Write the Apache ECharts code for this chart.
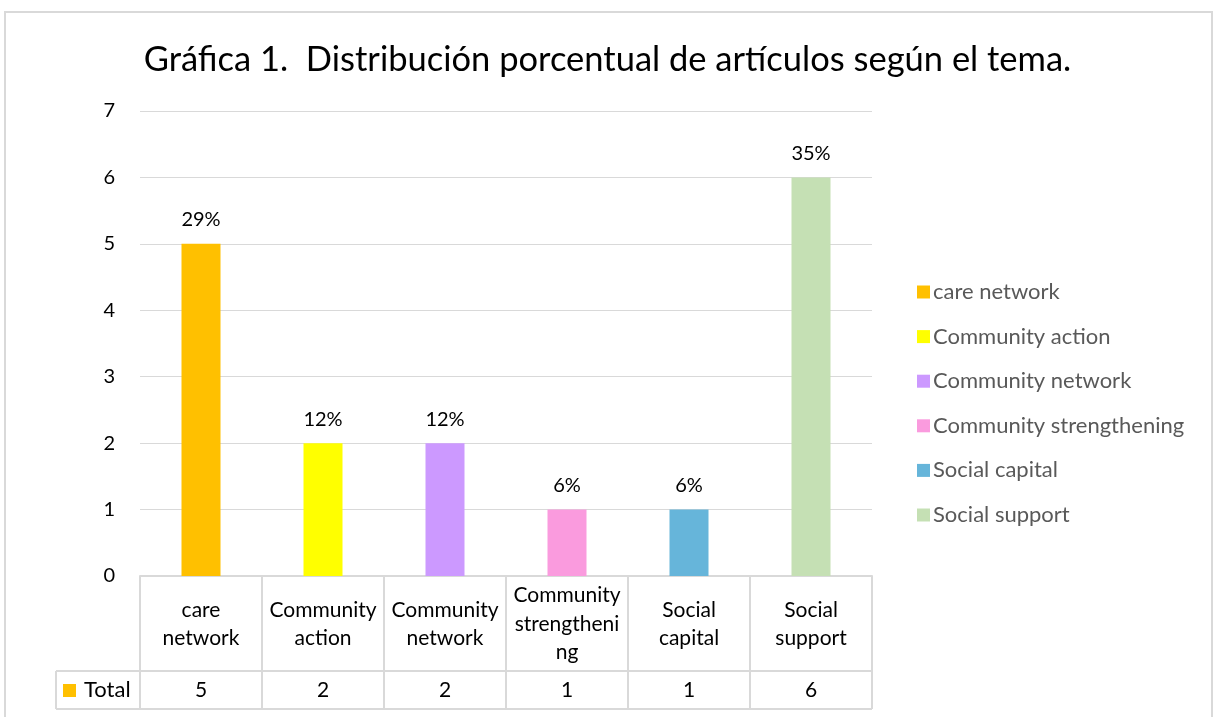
<!DOCTYPE html>
<html><head><meta charset="utf-8">
<script src="https://cdn.jsdelivr.net/npm/echarts@6/dist/echarts.min.js"></script>
<style>html,body{margin:0;padding:0;background:#fff}#c{width:1215px;height:717px}</style>
</head><body><div id="c"></div>
<script>
const title = 'Gráfica 1.  Distribución porcentual de artículos según el tema.';
const categories = ['care network','Community action','Community network','Community strengthening','Social capital','Social support'];
const headerLabels = ['care\nnetwork','Community\naction','Community\nnetwork','Community\nstrengtheni\nng','Social\ncapital','Social\nsupport'];
const values = [5,2,2,1,1,6];
const colors = ['#FFC000','#FFFF00','#CC99FF','#FA9BDE','#66B5DA','#C5E0B4'];
const yTicks = [0,1,2,3,4,5,6,7];

const FONT = 'Lato, "Open Sans", sans-serif';
const G = {left:140, right:343, top:111, bottom:141};
const total = values.reduce((a,b)=>a+b,0);

const chart = echarts.init(document.getElementById('c'));
const series = categories.map((name,i)=>({
  name, type:'bar', stack:'s', barWidth:39,
  itemStyle:{color:colors[i]},
  data: values.map((v,j)=> j===i ? v : '-'),
  label:{show:true, position:'top', distance:14, fontFamily:FONT, fontSize:20, color:'#000',
    formatter:p=>Math.round(p.value/total*100)+'%'}
}));
chart.setOption({
  animation:false,
  title:{text:title, left:'center', top:37, textStyle:{fontFamily:FONT, fontSize:34.5, fontWeight:'normal', color:'#000'}},
  grid:G,
  legend:{orient:'vertical', left:912, top:276, itemWidth:13, itemHeight:13, itemGap:22.6, icon:'rect',
    textStyle:{fontFamily:FONT, fontSize:22, color:'#595959', lineHeight:22, padding:[0,0,0,-2]}, data:categories},
  xAxis:[
    {type:'category', data:headerLabels, axisTick:{show:false},
     axisLine:{lineStyle:{color:'#d9d9d9', width:2}},
     axisLabel:{interval:0, margin:48, verticalAlign:'middle', lineHeight:28.5, fontFamily:FONT, fontSize:21, color:'#000'}},
    {type:'category', data:values.map(String), position:'bottom', axisTick:{show:false}, axisLine:{show:false},
     axisLabel:{interval:0, margin:114, verticalAlign:'middle', fontFamily:FONT, fontSize:21, color:'#000'}}
  ],
  yAxis:{type:'value', min:0, max:7, interval:1, axisLine:{show:false}, axisTick:{show:false},
    splitLine:{lineStyle:{color:'#d9d9d9', width:1}},
    axisLabel:{margin:25, fontFamily:FONT, fontSize:20, color:'#000', formatter:v=>yTicks.includes(v)?String(v):''}},
  series
});

// table lines & key
const W = 1215 - G.left - G.right;
const bw = W / categories.length;
const y0 = 717 - G.bottom;
const yMid = y0 + 95, yBot = y0 + 133, xKey = 56;
const lc = {stroke:'#d9d9d9', lineWidth:2};
const els = [];
els.push({type:'rect', shape:{x:5, y:12, width:1207, height:720}, style:{fill:'none', stroke:'#d9d9d9', lineWidth:2}, silent:true});
for (let i=0;i<=categories.length;i++){
  const x = G.left + i*bw;
  els.push({type:'line', shape:{x1:x,y1:y0,x2:x,y2:yBot}, style:lc, silent:true});
}
els.push({type:'line', shape:{x1:xKey,y1:yMid,x2:G.left+W,y2:yMid}, style:lc, silent:true});
els.push({type:'line', shape:{x1:xKey,y1:yBot,x2:G.left+W,y2:yBot}, style:lc, silent:true});
els.push({type:'line', shape:{x1:xKey,y1:yMid,x2:xKey,y2:yBot}, style:lc, silent:true});
els.push({type:'rect', shape:{x:63, y:(yMid+yBot)/2-6, width:13, height:13}, style:{fill:colors[0]}, silent:true});
els.push({type:'text', x:84, y:(yMid+yBot)/2, style:{text:'Total', fontFamily:FONT, fontSize:22, fill:'#000', verticalAlign:'middle', align:'left'}, silent:true});
chart.setOption({graphic:els});
</script></body></html>
